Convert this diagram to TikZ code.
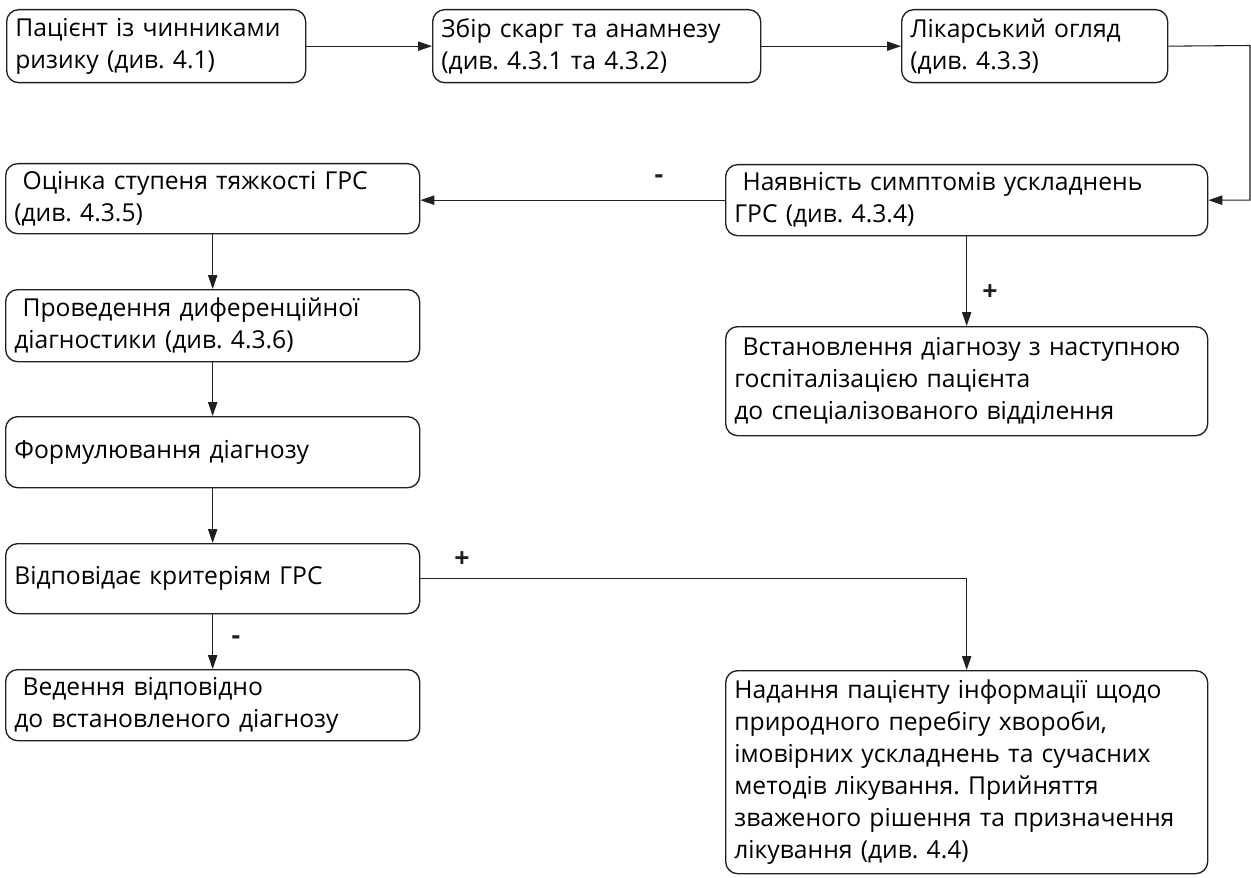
\documentclass[tikz,border=0pt]{standalone}
\usepackage{fontspec}
\setmainfont{Open Sans}
\frenchspacing
\usepackage{tikz}
\usetikzlibrary{arrows.meta}
\definecolor{ink}{HTML}{231F20}

\begin{document}
\begin{tikzpicture}[x=0.75pt,y=-0.75pt,
    box/.style={draw=ink,line width=1pt,rounded corners=9pt,anchor=north west,
      align=left,inner xsep=6.5pt,inner ysep=0pt,font=\fontsize{18.5}{24}\selectfont},
    sign/.style={font=\fontsize{20}{24}\selectfont\bfseries,text=ink},
    conn/.style={->,draw=ink,line width=0.8pt},
    >={Triangle[length=10.5pt,width=7pt]}]
        \useasboundingbox (0,0) rectangle (1251,877);

        \path
        % top row
        (6,9) node[box,text width=211.25pt,minimum height=54.75pt](risk)
          {Пацієнт із чинниками\\ризику (див. 4.1)}
        (432,9) node[box,text width=233pt,minimum height=54.75pt](hist)
          {Збір скарг та анамнезу\\(див. 4.3.1 та 4.3.2)}
        (901,9) node[box,text width=186.5pt,minimum height=54.75pt](exam)
          {Лікарський огляд\\(див. 4.3.3)}

        % left column
        (5,163) node[box,text width=297.5pt,minimum height=52.5pt](sever)
          {\ Оцінка ступеня тяжкості ГРС\\(див. 4.3.5)}
        (5,289) node[box,text width=297.5pt,minimum height=54pt](diff)
          {\ Проведення диференційної\\діагностики (див. 4.3.6)}
        (5,416) node[box,text width=297.5pt,minimum height=53.25pt](form)
          {Формулювання діагнозу}
        (5,543) node[box,text width=297.5pt,minimum height=52.5pt](crit)
          {Відповідає критеріям ГРС}
        (5,669) node[box,text width=297.5pt,minimum height=53.25pt](manage)
          {\ Ведення відповідно\\до встановленого діагнозу}

        % right column
        (725,164) node[box,text width=348.5pt,minimum height=53.25pt](sympt)
          {\ Наявність симптомів ускладнень\\ГРС (див. 4.3.4)}
        (725,326) node[box,text width=348.5pt,minimum height=81.75pt](hosp)
          {\ Встановлення діагнозу з наступною\\госпіталізацією пацієнта\\до спеціалізованого відділення}
        (725,670) node[box,text width=348.5pt,minimum height=152.25pt](info)
          {Надання пацієнту інформації щодо\\природного перебігу хвороби,\\імовірних ускладнень та сучасних\\методів лікування. Прийняття\\зваженого рішення та призначення\\лікування (див. 4.4)}

        % signs
        (659,179) node[sign](minusA) {-}
        (990,293) node[sign](plusA) {+}
        (462,560) node[sign](plusB) {+}
        (236,640) node[sign](minusB) {-}
        ;

        \coordinate (edge) at (1250,45.5);

        \draw[conn] (risk) -- (hist);
        \draw[conn] (hist) -- (exam);
        \draw[conn] (exam.east) -- (edge) |- (sympt.east);

        \draw[conn] (sympt.west) -- (sympt.west -| sever.east);
        \draw[conn] (sympt) -- (hosp);

        \draw[conn] (sever) -- (diff);
        \draw[conn] (diff) -- (form);
        \draw[conn] (form) -- (crit);
        \draw[conn] (crit) -- (manage);
        \draw[conn] (crit.east) -| (info.north);
      \end{tikzpicture}
\end{document}
